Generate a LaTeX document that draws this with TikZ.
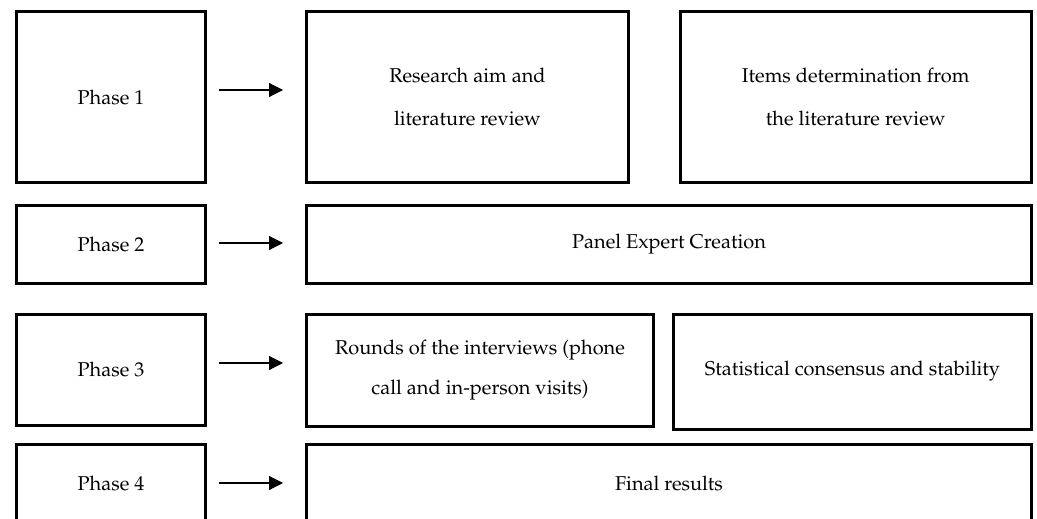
\documentclass[tikz,border=0pt]{standalone}
\usepackage[T1]{fontenc}
\usepackage{mathpazo}
\usetikzlibrary{arrows.meta}
\tikzset{
  box/.style={draw=black, line width=3pt, inner sep=0pt, align=center,
    font=\fontsize{20}{24}\selectfont},
  twoline/.style={font=\fontsize{20}{43}\selectfont},
  flow/.style={line width=1.2pt, -{Triangle[length=14pt,width=14pt]}}
}
\begin{document}
\begin{tikzpicture}[x=1pt,y=-1pt]
\useasboundingbox (0,0) rectangle (1037,519);
\clip (0,0) rectangle (1037,519);
% phase boxes
\node[box, minimum width=189pt, minimum height=171pt] (p1) at (111,97) {Phase 1};
\node[box, minimum width=189pt, minimum height=78pt] (p2) at (111,244) {Phase 2};
\node[box, minimum width=189pt, minimum height=111pt] (p3) at (111,369.5) {Phase 3};
\node[box, minimum width=189pt, minimum height=78pt] (p4) at (111,483) {Phase 4};
% content boxes
\node[box, twoline, minimum width=322pt, minimum height=171pt] (r1a) at (467.5,97) {Research aim and\\literature review};
\node[box, twoline, minimum width=351.5pt, minimum height=171pt] (r1b) at (855.75,97) {Items determination from\\the literature review};
\node[box, minimum width=725pt, minimum height=78pt] (r2) at (669,244) {Panel Expert Creation};
\node[box, font=\fontsize{20}{40}\selectfont, minimum width=347pt, minimum height=112pt] (r3a) at (480,370) {Rounds of the interviews (phone\\call and in-person visits)};
\node[box, minimum width=358pt, minimum height=115pt] (r3b) at (852.5,371.5) {Statistical consensus and stability};
\node[box, minimum width=725pt, minimum height=78pt] (r4) at (669,483) {Final results};
% arrows
\coordinate (a1s) at (217,90);  \coordinate (a1e) at (283,90);
\coordinate (a2s) at (217,243); \coordinate (a2e) at (283,243);
\coordinate (a3s) at (217,363); \coordinate (a3e) at (283,363);
\coordinate (a4s) at (217,483); \coordinate (a4e) at (283,483);
\draw[flow] (p1.east |- a1s) ++(11.5,0) -- (a1e);
\draw[flow] (p2.east |- a2s) ++(11.5,0) -- (a2e);
\draw[flow] (p3.east |- a3s) ++(11.5,0) -- (a3e);
\draw[flow] (p4.east |- a4s) ++(11.5,0) -- (a4e);
\end{tikzpicture}
\end{document}
